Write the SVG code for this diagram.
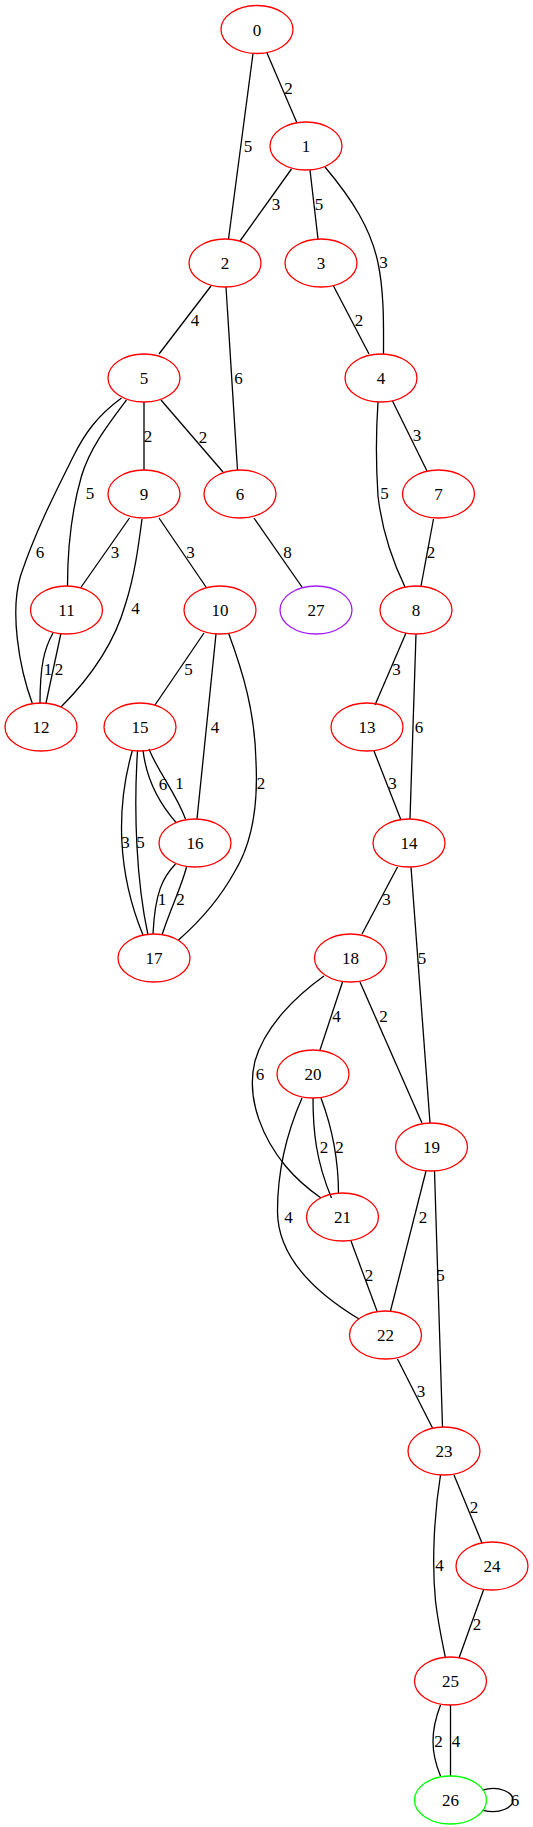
<svg xmlns="http://www.w3.org/2000/svg" width="533" height="1827" viewBox="0 0 533 1827">
<style>
.n ellipse{fill:none;stroke:#ff0000;stroke-width:1.3}
.n text,.l{font-family:"Liberation Serif",serif;font-size:17px;text-anchor:middle;fill:#000}
.e path{fill:none;stroke:#000;stroke-width:1.3}
</style>
<rect width="533" height="1827" fill="#fff"/>
<g id="edges" class="e">
<path d="M267,53 L297,123"/>
<path d="M253,53.5 L228.5,239"/>
<path d="M291.5,169 L240,241"/>
<path d="M310,170 L318,239"/>
<path d="M325,167 C352,199 371,229 378,263 C384.5,293 383.5,331 383.5,354"/>
<path d="M333.5,286 L369,354"/>
<path d="M211,286 L159,354"/>
<path d="M226,287 L237.5,470"/>
<path d="M144,402 L144,470"/>
<path d="M161,400 L223,472"/>
<path d="M126.5,400 C107,426 90,448 81.5,476 C71.5,511 67.5,546 67.5,586"/>
<path d="M121.5,398 C97,416 84.5,434 73.5,456 C56,491 35.5,531 20.5,576 C10,611 18.5,666 32.5,704"/>
<path d="M129.5,518 L80.5,588"/>
<path d="M142,519 C138.5,546 134.5,576 125.5,604 C115,641 92,676 61,707"/>
<path d="M159,518 L206,587"/>
<path d="M254,518 L302,587"/>
<path d="M378,402 C376,431 376,466 378,496 C382,531 392.5,561 405,587"/>
<path d="M392.5,401 L427,471"/>
<path d="M433.5,519 L421,586"/>
<path d="M53,633 C44,649 40,666 40,704"/>
<path d="M61,633 C56,656 51,679 46,703"/>
<path d="M204,633 L155,705"/>
<path d="M216,634 L197,819"/>
<path d="M228.5,633 C242.5,671 255,711 256,762 C258,802 253,842 234.5,872 C219,900 199,922 178.5,940"/>
<path d="M406,633 L375,705"/>
<path d="M416,634 L410,819"/>
<path d="M374,751 L401,820"/>
<path d="M143,750 C146,777 158,802 176.5,823"/>
<path d="M149,749 C158,772 175.5,792 185.5,819"/>
<path d="M132.5,750 C116,807 117,872 143,935"/>
<path d="M137.5,751 C133.5,812 136.5,882 148,935"/>
<path d="M175.5,864 C163,877 155,892 153,934"/>
<path d="M186.5,867 C181.5,887 171,907 162,935"/>
<path d="M397.5,867 L362,934"/>
<path d="M411,867 L430,1123"/>
<path d="M342.5,982 L320,1050"/>
<path d="M360,982 L422,1123"/>
<path d="M324,976 C296,996 265,1026 255,1061 C245,1101 265,1141 285.5,1166 C298,1181 311,1191 321,1198"/>
<path d="M313,1098 C313,1131 316,1161 331.5,1198"/>
<path d="M321,1098 C331.5,1126 338.5,1161 338.5,1194"/>
<path d="M302,1098 C287.5,1131 277.5,1171 277.5,1211 C277.5,1252 306,1287 359,1319"/>
<path d="M351,1241 L377,1311"/>
<path d="M426,1171 L390.5,1311"/>
<path d="M434.5,1171 L442.5,1427"/>
<path d="M397.5,1359 L432.5,1428"/>
<path d="M454,1475 L482,1543"/>
<path d="M440.5,1475 C434.5,1512 431.5,1561 435.5,1601 C438.5,1626 442.5,1643 445.5,1658"/>
<path d="M483.5,1590 L459,1658"/>
<path d="M440.5,1705 C430.5,1731 430.5,1752 440.5,1776"/>
<path d="M450.5,1705 L450.5,1776"/>
<path d="M482.5,1790 C500,1785 513,1793 513,1800 C513,1807 500,1815 482.5,1810"/>
<text class="l" x="288.5" y="94">2</text>
<text class="l" x="248" y="152">5</text>
<text class="l" x="276" y="210">3</text>
<text class="l" x="319" y="210">5</text>
<text class="l" x="383.5" y="268">3</text>
<text class="l" x="359" y="326">2</text>
<text class="l" x="195" y="326">4</text>
<text class="l" x="238.5" y="384">6</text>
<text class="l" x="148" y="442">2</text>
<text class="l" x="203" y="443">2</text>
<text class="l" x="90" y="499">5</text>
<text class="l" x="40" y="558">6</text>
<text class="l" x="115" y="558">3</text>
<text class="l" x="135.5" y="614">4</text>
<text class="l" x="190.5" y="558">3</text>
<text class="l" x="287.5" y="558">8</text>
<text class="l" x="384.5" y="499">5</text>
<text class="l" x="417" y="441">3</text>
<text class="l" x="431" y="558">2</text>
<text class="l" x="48" y="675">1</text>
<text class="l" x="59" y="675">2</text>
<text class="l" x="188.5" y="675">5</text>
<text class="l" x="215" y="733">4</text>
<text class="l" x="261" y="789">2</text>
<text class="l" x="396.5" y="675">3</text>
<text class="l" x="419" y="733">6</text>
<text class="l" x="392.5" y="789">3</text>
<text class="l" x="163" y="790">6</text>
<text class="l" x="179.5" y="789">1</text>
<text class="l" x="125.5" y="848">3</text>
<text class="l" x="140.5" y="848">5</text>
<text class="l" x="162" y="905">1</text>
<text class="l" x="180.5" y="905">2</text>
<text class="l" x="386.5" y="905">3</text>
<text class="l" x="422" y="964">5</text>
<text class="l" x="336.5" y="1022">4</text>
<text class="l" x="383.5" y="1022">2</text>
<text class="l" x="260" y="1080">6</text>
<text class="l" x="324" y="1153">2</text>
<text class="l" x="339.5" y="1153">2</text>
<text class="l" x="288.5" y="1223">4</text>
<text class="l" x="369" y="1281">2</text>
<text class="l" x="423" y="1223">2</text>
<text class="l" x="440.5" y="1281">5</text>
<text class="l" x="421" y="1397">3</text>
<text class="l" x="474" y="1513">2</text>
<text class="l" x="439.5" y="1571">4</text>
<text class="l" x="477" y="1630">2</text>
<text class="l" x="438.5" y="1747">2</text>
<text class="l" x="456" y="1747">4</text>
<text class="l" x="515" y="1806">6</text>
</g>
<g id="node0" class="n"><ellipse cx="257" cy="29.5" rx="36" ry="24"/><text x="257" y="35.5">0</text></g>
<g id="node1" class="n"><ellipse cx="306" cy="146" rx="36" ry="24"/><text x="306" y="152">1</text></g>
<g id="node2" class="n"><ellipse cx="225" cy="263" rx="36" ry="24"/><text x="225" y="269">2</text></g>
<g id="node3" class="n"><ellipse cx="321" cy="263" rx="36" ry="24"/><text x="321" y="269">3</text></g>
<g id="node4" class="n"><ellipse cx="381" cy="378" rx="36" ry="24"/><text x="381" y="384">4</text></g>
<g id="node5" class="n"><ellipse cx="144" cy="378" rx="36" ry="24"/><text x="144" y="384">5</text></g>
<g id="node6" class="n"><ellipse cx="240" cy="494" rx="36" ry="24"/><text x="240" y="500">6</text></g>
<g id="node7" class="n"><ellipse cx="438.5" cy="494" rx="36" ry="24"/><text x="438.5" y="500">7</text></g>
<g id="node8" class="n"><ellipse cx="416" cy="610" rx="36" ry="24"/><text x="416" y="616">8</text></g>
<g id="node9" class="n"><ellipse cx="144" cy="494" rx="36" ry="24"/><text x="144" y="500">9</text></g>
<g id="node10" class="n"><ellipse cx="220" cy="610" rx="36" ry="24"/><text x="220" y="616">10</text></g>
<g id="node11" class="n"><ellipse cx="66.5" cy="610" rx="36" ry="24"/><text x="66.5" y="616">11</text></g>
<g id="node12" class="n"><ellipse cx="41" cy="727" rx="36" ry="24"/><text x="41" y="733">12</text></g>
<g id="node13" class="n"><ellipse cx="367" cy="727" rx="36" ry="24"/><text x="367" y="733">13</text></g>
<g id="node14" class="n"><ellipse cx="409" cy="843" rx="36" ry="24"/><text x="409" y="849">14</text></g>
<g id="node15" class="n"><ellipse cx="140" cy="727" rx="36" ry="24"/><text x="140" y="733">15</text></g>
<g id="node16" class="n"><ellipse cx="195" cy="843" rx="36" ry="24"/><text x="195" y="849">16</text></g>
<g id="node17" class="n"><ellipse cx="154" cy="958" rx="36" ry="24"/><text x="154" y="964">17</text></g>
<g id="node18" class="n"><ellipse cx="350.5" cy="958" rx="36" ry="24"/><text x="350.5" y="964">18</text></g>
<g id="node19" class="n"><ellipse cx="431.5" cy="1147" rx="36" ry="24"/><text x="431.5" y="1153">19</text></g>
<g id="node20" class="n"><ellipse cx="313" cy="1074" rx="36" ry="24"/><text x="313" y="1080">20</text></g>
<g id="node21" class="n"><ellipse cx="342.5" cy="1217" rx="36" ry="24"/><text x="342.5" y="1223">21</text></g>
<g id="node22" class="n"><ellipse cx="385.5" cy="1335" rx="36" ry="24"/><text x="385.5" y="1341">22</text></g>
<g id="node23" class="n"><ellipse cx="444" cy="1451" rx="36" ry="24"/><text x="444" y="1457">23</text></g>
<g id="node24" class="n"><ellipse cx="492" cy="1566" rx="36" ry="24"/><text x="492" y="1572">24</text></g>
<g id="node25" class="n"><ellipse cx="450.5" cy="1681" rx="36" ry="24"/><text x="450.5" y="1687">25</text></g>
<g id="node26" class="n"><ellipse cx="450.5" cy="1800" rx="36" ry="24" style="stroke:#00ff00"/><text x="450.5" y="1806">26</text></g>
<g id="node27" class="n"><ellipse cx="316" cy="610" rx="36" ry="24" style="stroke:#a020f0"/><text x="316" y="616">27</text></g>
</svg>
